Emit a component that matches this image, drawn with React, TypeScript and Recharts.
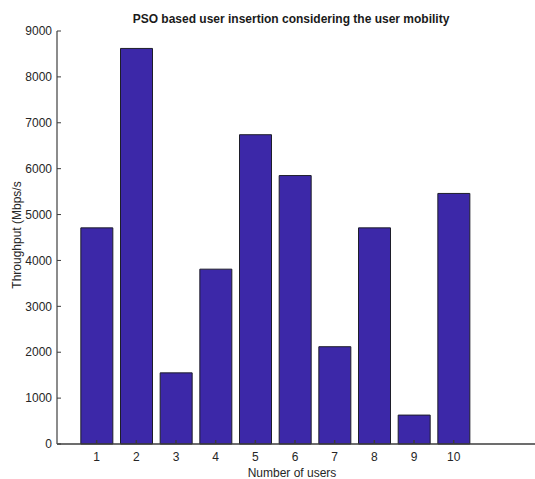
import React from 'react';
import { BarChart, Bar, XAxis, YAxis } from 'recharts';

// Throughput per number of inserted users
const users = [1, 2, 3, 4, 5, 6, 7, 8, 9, 10];
const throughput = [4710, 8620, 1550, 3810, 6740, 5850, 2120, 4710, 630, 5460];
const yTicks = [0, 1000, 2000, 3000, 4000, 5000, 6000, 7000, 8000, 9000];

const data = users.map((u, i) => ({ users: u, throughput: throughput[i] }));

const FONT = 'Arial, "Liberation Sans", Helvetica, sans-serif';
const AXIS = '#3c3c3c';
const TEXT = '#262626';
const X_MARGIN = 8;
const Y_MARGIN = 5;
const TICK_LEN = 4;

// MATLAB style: tick marks point into the plot box
const BottomTick = ({ x, y, payload }: any) => (
  <g>
    <line x1={x} x2={x} y1={y - X_MARGIN} y2={y - X_MARGIN - TICK_LEN} stroke={AXIS} strokeWidth={1.5} />
    <text x={x} y={y} dy="0.71em" textAnchor="middle" fill={TEXT} fontSize={12} fontFamily={FONT}>
      {payload.value}
    </text>
  </g>
);

const TopTick = ({ x, y }: any) => (
  <line x1={x} x2={x} y1={y} y2={y + TICK_LEN} stroke={AXIS} strokeWidth={1.5} />
);

const LeftTick = ({ x, y, payload }: any) => (
  <g>
    <line x1={x + Y_MARGIN} x2={x + Y_MARGIN + TICK_LEN} y1={y} y2={y} stroke={AXIS} strokeWidth={1} />
    <text x={x} y={y} dy="0.355em" textAnchor="end" fill={TEXT} fontSize={12} fontFamily={FONT}>
      {payload.value}
    </text>
  </g>
);

const App: React.FC = () => {
  return (
    <div style={{ position: 'relative', width: 535, height: 479, background: '#fff', fontFamily: FONT }}>
      <style>{`body { margin: 0; }`}</style>
      <div
        style={{
          position: 'absolute', left: 0, width: 582, top: 12, textAlign: 'center',
          fontSize: 12, fontWeight: 'bold', color: '#1a1a1a', lineHeight: '14px',
        }}
      >
        PSO based user insertion considering the user mobility
      </div>
      <BarChart
        width={535}
        height={479}
        data={data}
        margin={{ top: 31, right: 0, bottom: 0, left: 0 }}
      >
        <XAxis
          xAxisId={0}
          dataKey="users"
          type="number"
          domain={[0, 12.05]}
          ticks={users}
          allowDataOverflow
          height={35}
          tickSize={0}
          tickMargin={X_MARGIN}
          tickLine={false}
          axisLine={{ stroke: AXIS, strokeWidth: 1.5 }}
          tick={(p: any) => <BottomTick {...p} />}
          interval={0}
        />
        <XAxis
          xAxisId="top"
          dataKey="users"
          type="number"
          orientation="top"
          domain={[0, 12.05]}
          ticks={users}
          allowDataOverflow
          height={0}
          tickSize={0}
          tickMargin={0}
          tickLine={false}
          axisLine={{ stroke: AXIS, strokeWidth: 1.5 }}
          tick={(p: any) => <TopTick {...p} />}
          interval={0}
        />
        <YAxis
          type="number"
          domain={[0, 9000]}
          ticks={yTicks}
          width={57}
          tickSize={0}
          tickMargin={Y_MARGIN}
          tickLine={false}
          axisLine={{ stroke: '#666', strokeWidth: 1.5 }}
          tick={(p: any) => <LeftTick {...p} />}
          interval={0}
        />
        <Bar
          dataKey="throughput"
          xAxisId={0}
          barSize={32}
          fill="#3c28a8"
          stroke="#1e1e2a"
          strokeWidth={1}
          isAnimationActive={false}
        />
      </BarChart>
      <div
        style={{
          position: 'absolute', left: 0, width: 584, top: 466, textAlign: 'center',
          fontSize: 12, color: TEXT, lineHeight: '14px',
        }}
      >
        Number of users
      </div>
      <div
        style={{
          position: 'absolute', left: 17, top: 235, width: 0, height: 0,
        }}
      >
        <div
          style={{
            position: 'absolute', transform: 'translate(-50%, -50%) rotate(-90deg)',
            whiteSpace: 'nowrap', fontSize: 12, color: TEXT, lineHeight: '14px',
          }}
        >
          Throughput (Mbps/s
        </div>
      </div>
    </div>
  );
};

export default App;
